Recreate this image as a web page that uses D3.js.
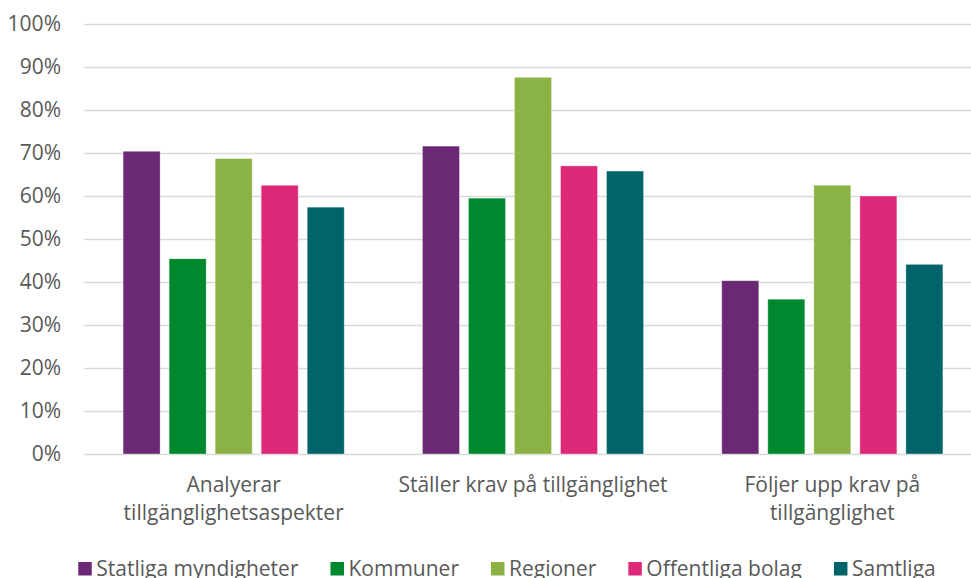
<!DOCTYPE html>
<html>
<head>
<meta charset="utf-8">
<script src="https://cdn.jsdelivr.net/npm/d3@7"></script>
<style>
  body { margin: 0; background: #fff; }
  svg { font-family: "Open Sans", sans-serif; }
</style>
</head>
<body>
<svg id="chart"></svg>
<script>
// data
const categories = [
  ["Analyerar", "tillgänglighetsaspekter"],
  ["Ställer krav på tillgänglighet"],
  ["Följer upp krav på", "tillgänglighet"]
];
const seriesNames = ["Statliga myndigheter", "Kommuner", "Regioner", "Offentliga bolag", "Samtliga"];
const seriesColors = ["#6a2875", "#00882e", "#8bb244", "#de2979", "#00646a"];
const statliga = [70.4, 71.6, 40.3];
const kommuner = [45.4, 59.5, 36.0];
const regioner = [68.7, 87.6, 62.5];
const offentliga = [62.5, 67.0, 60.0];
const samtliga = [57.4, 65.8, 44.1];
const yTicks = [0, 10, 20, 30, 40, 50, 60, 70, 80, 90, 100];

const series = [statliga, kommuner, regioner, offentliga, samtliga];

const width = 971, height = 578;
// plot area runs a bit past the right edge, as in the original
const margin = { top: 24, right: -11, bottom: 124, left: 84 };
const textColor = "#595959";
const font = "\"Open Sans\", sans-serif";
const legendGap = 32;

const svg = d3.select("#chart").attr("width", width).attr("height", height);

const catIdx = categories.map((c, i) => i);
const x0 = d3.scaleBand().domain(catIdx).range([margin.left, width - margin.right]).padding(0);
const x1 = d3.scaleBand().domain(d3.range(seriesNames.length)).range([0, x0.bandwidth()])
  .paddingInner(0.196).paddingOuter(0.85);
const y = d3.scaleLinear().domain([0, 100]).range([height - margin.bottom, margin.top]);

// gridlines
svg.append("g")
  .selectAll("line")
  .data(yTicks)
  .join("line")
  .attr("x1", margin.left)
  .attr("x2", width)
  .attr("y1", d => Math.round(y(d)) + 0.5)
  .attr("y2", d => Math.round(y(d)) + 0.5)
  .attr("stroke", "#d9d9d9")
  .attr("stroke-width", 1.3);

// y axis labels
const yAxis = svg.append("g")
  .attr("transform", `translate(${margin.left - 23}, 0)`)
  .call(d3.axisLeft(y).tickValues(yTicks).tickSize(0).tickPadding(0).tickFormat(d => d + "%"));
yAxis.select(".domain").remove();
yAxis.selectAll("text")
  .attr("fill", textColor)
  .style("font-size", "21px")
  .style("font-family", font);

// bars
const groups = svg.append("g")
  .selectAll("g")
  .data(catIdx)
  .join("g")
  .attr("transform", d => `translate(${x0(d)},0)`);

groups.selectAll("rect")
  .data(ci => series.map((s, si) => ({ si, v: s[ci] })))
  .join("rect")
  .attr("x", d => x1(d.si))
  .attr("y", d => y(d.v))
  .attr("width", x1.bandwidth())
  .attr("height", d => y(0) - y(d.v))
  .attr("fill", d => seriesColors[d.si])
  .attr("stroke", "#ffffff")
  .attr("stroke-opacity", 0.4)
  .attr("stroke-width", 0.8);

// category labels
const catLabels = svg.append("g")
  .selectAll("text")
  .data(catIdx)
  .join("text")
  .attr("x", d => x0(d) + x0.bandwidth() / 2)
  .attr("y", 492)
  .attr("text-anchor", "middle")
  .attr("fill", textColor)
  .style("font-size", "21px");
catLabels.selectAll("tspan")
  .data(d => categories[d])
  .join("tspan")
  .attr("x", function () { return d3.select(this.parentNode).attr("x"); })
  .attr("dy", (d, i) => i === 0 ? 0 : 27.5)
  .text(d => d);

// legend
const legend = svg.append("g");
const items = legend.selectAll("g")
  .data(seriesNames)
  .join("g");
items.append("rect")
  .attr("width", 13.5)
  .attr("height", 13.5)
  .attr("y", 562)
  .attr("fill", (d, i) => seriesColors[i]);
items.append("text")
  .attr("x", 18)
  .attr("y", 575.5)
  .attr("fill", textColor)
  .style("font-size", "21px")
  .text(d => d);

let lx = 0;
items.each(function () {
  const g = d3.select(this);
  g.attr("transform", `translate(${lx},0)`);
  lx += 18 + g.select("text").node().getComputedTextLength() + legendGap;
});
const legendWidth = lx - legendGap;
legend.attr("transform", `translate(${507 - legendWidth / 2},0)`);
</script>
</body>
</html>
